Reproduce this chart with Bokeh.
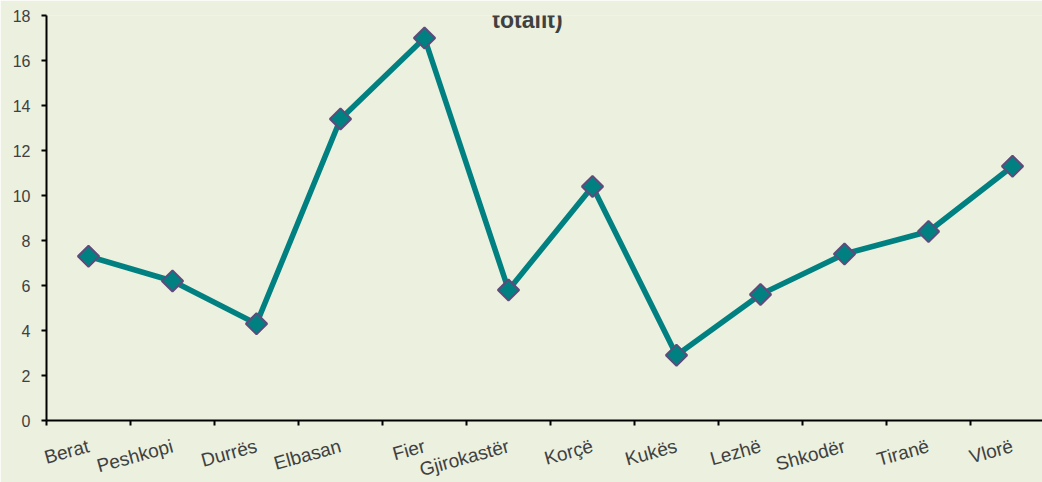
from bokeh.plotting import figure
from bokeh.models import Range1d, FixedTicker, Label
from bokeh.embed import file_html
from bokeh.resources import INLINE

categories = ["Berat", "Peshkopi", "Durrës", "Elbasan", "Fier", "Gjirokastër",
              "Korçë", "Kukës", "Lezhë", "Shkodër", "Tiranë", "Vlorë"]
values = [7.3, 6.2, 4.3, 13.4, 17.0, 5.8, 10.4, 2.9, 5.6, 7.4, 8.4, 11.3]
y_ticks = [0, 2, 4, 6, 8, 10, 12, 14, 16, 18]
title_text = "totalit)"

BG = "#EBF0DF"
TXT = "#404040"

centers = [i + 0.5 for i in range(len(categories))]
bounds = [float(i) for i in range(len(categories) + 1)]

p = figure(frame_width=996, frame_height=405, output_backend="svg", toolbar_location=None,
           x_range=Range1d(0, 11.857), y_range=Range1d(0, 18),
           min_border_left=46, min_border_right=0, min_border_top=15, min_border_bottom=62)
p.background_fill_color = BG
p.border_fill_color = BG
p.outline_line_color = None
p.grid.visible = False

p.line(centers, values, line_color="#008080", line_width=5.5)
p.scatter(centers, values, marker="square", angle=0.785398, size=15,
          fill_color="#008080", line_color="#604A7B", line_width=2)

xa = p.xaxis[0]
xa.ticker = FixedTicker(ticks=centers, minor_ticks=bounds)
xa.major_label_overrides = {c: n for c, n in zip(centers, categories)}
xa.major_tick_out = 0
xa.major_tick_in = 0
xa.minor_tick_out = 5
xa.minor_tick_in = 0
xa.minor_tick_line_color = "black"
xa.minor_tick_line_width = 2
xa.axis_line_color = "black"
xa.axis_line_width = 2
xa.major_label_orientation = 0.27
xa.major_label_text_font = "Liberation Sans"
xa.major_label_text_font_size = "19px"
xa.major_label_text_color = TXT
xa.major_label_standoff = 20

ya = p.yaxis[0]
ya.ticker = FixedTicker(ticks=y_ticks, minor_ticks=[])
ya.major_tick_out = 5
ya.major_tick_in = 0
ya.major_tick_line_color = "black"
ya.major_tick_line_width = 2
ya.axis_line_color = "black"
ya.axis_line_width = 2
ya.major_label_text_font = "Liberation Sans"
ya.major_label_text_font_size = "16px"
ya.major_label_text_color = TXT
ya.major_label_standoff = 11

title = Label(x=481, y=401, x_units="screen", y_units="screen", text=title_text,
              text_align="center", text_baseline="alphabetic",
              text_font="Liberation Sans", text_font_style="bold",
              text_font_size="23px", text_color=TXT)
p.add_layout(title)

open("out.html", "w").write(file_html(p, INLINE))
